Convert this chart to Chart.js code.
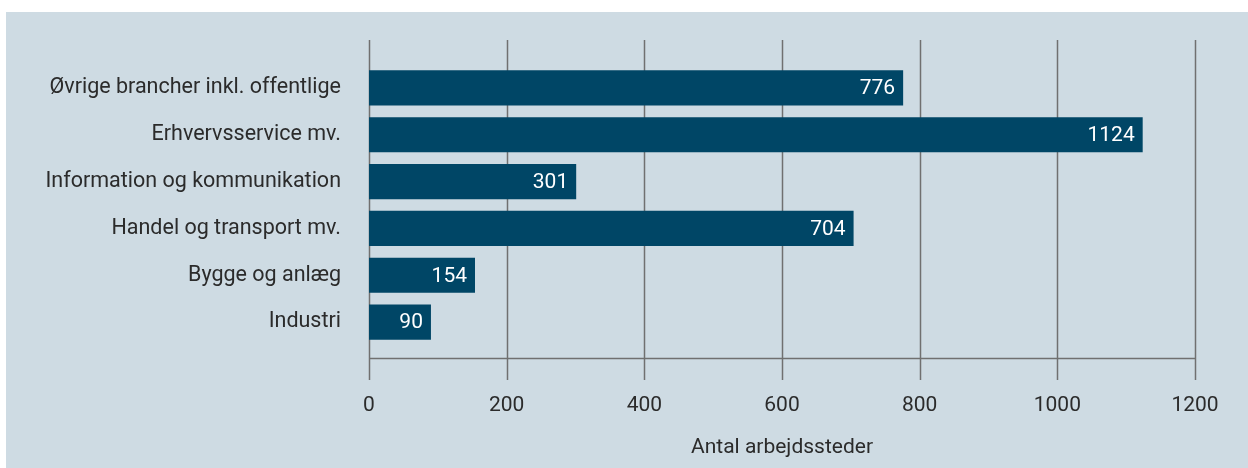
<!DOCTYPE html>
<html>
<head>
<meta charset="utf-8">
<script src="https://cdn.jsdelivr.net/npm/chart.js@4.4.1/dist/chart.umd.min.js"></script>
<style>
  html, body { margin: 0; padding: 0; background: #fff; }
  #wrap { width: 1248px; height: 468px; }
</style>
</head>
<body>
<div id="wrap"><canvas id="myChart" width="1248" height="468"></canvas></div>
<script>
const categories = [
  'Øvrige brancher inkl. offentlige',
  'Erhvervsservice mv.',
  'Information og kommunikation',
  'Handel og transport mv.',
  'Bygge og anlæg',
  'Industri'
];
const values = [776, 1124, 301, 704, 154, 90];
const xTicks = [0, 200, 400, 600, 800, 1000, 1200];
const axisTitle = 'Antal arbejdssteder';

const FONT = 'Roboto';
const TEXT = '#2b2b2b';
const BAR = '#004666';
const GRID = '#707070';

// panel background behind the chart
const panelBg = {
  id: 'panelBg',
  beforeDraw(chart) {
    const c = chart.ctx;
    c.save();
    c.fillStyle = '#cedbe3';
    c.fillRect(6, 12, chart.width - 6, chart.height - 12);
    c.restore();
  }
};

// grid lines that run past the bar area, plus the baseline
const gridLines = {
  id: 'gridLines',
  beforeDatasetsDraw(chart) {
    const c = chart.ctx;
    const x = chart.scales.x;
    c.save();
    c.strokeStyle = GRID;
    c.lineWidth = 1.5;
    xTicks.forEach(v => {
      const px = Math.round(x.getPixelForValue(v)) + 0.5;
      c.beginPath();
      c.moveTo(px, 40);
      c.lineTo(px, 380);
      c.stroke();
    });
    c.beginPath();
    c.moveTo(x.getPixelForValue(xTicks[0]), 358.5);
    c.lineTo(x.getPixelForValue(xTicks[xTicks.length - 1]), 358.5);
    c.stroke();
    c.restore();
  }
};

// value labels inside the bar ends
const barLabels = {
  id: 'barLabels',
  afterDatasetsDraw(chart) {
    const c = chart.ctx;
    const meta = chart.getDatasetMeta(0);
    c.save();
    c.fillStyle = '#ffffff';
    c.font = '21px ' + FONT;
    c.textAlign = 'right';
    c.textBaseline = 'middle';
    meta.data.forEach((bar, i) => {
      c.fillText(String(values[i]), bar.x - 8, bar.y + 1);
    });
    c.restore();
  }
};

const ctx = document.getElementById('myChart').getContext('2d');
const myChart = new Chart(ctx, {
  type: 'bar',
  data: {
    labels: categories,
    datasets: [{
      data: values,
      backgroundColor: BAR,
      borderWidth: 0,
      categoryPercentage: 1,
      barPercentage: 0.75
    }]
  },
  options: {
    indexAxis: 'y',
    responsive: false,
    animation: false,
    layout: { padding: { top: 64.5, right: 53, bottom: 0, left: 0 } },
    plugins: {
      legend: { display: false },
      tooltip: { enabled: false }
    },
    scales: {
      x: {
        min: 0,
        max: 1200,
        afterBuildTicks(scale) { scale.ticks = xTicks.map(v => ({ value: v })); },
        afterFit(scale) {
          scale.height = 122.5;
          scale.paddingLeft = 0;
          scale.paddingRight = 0;
        },
        grid: { display: false },
        border: { display: false },
        ticks: {
          color: TEXT,
          font: { family: FONT, size: 21 },
          padding: 40,
          callback: v => String(v)
        },
        title: {
          display: true,
          text: axisTitle,
          color: TEXT,
          font: { family: FONT, size: 21 },
          padding: { top: 0, bottom: 8 }
        }
      },
      y: {
        afterFit(scale) { scale.width = 369; },
        grid: { display: false },
        border: { display: false },
        ticks: { color: TEXT, font: { family: FONT, size: 21.5 }, padding: 20 }
      }
    }
  },
  plugins: [panelBg, gridLines, barLabels]
});
</script>
</body>
</html>
